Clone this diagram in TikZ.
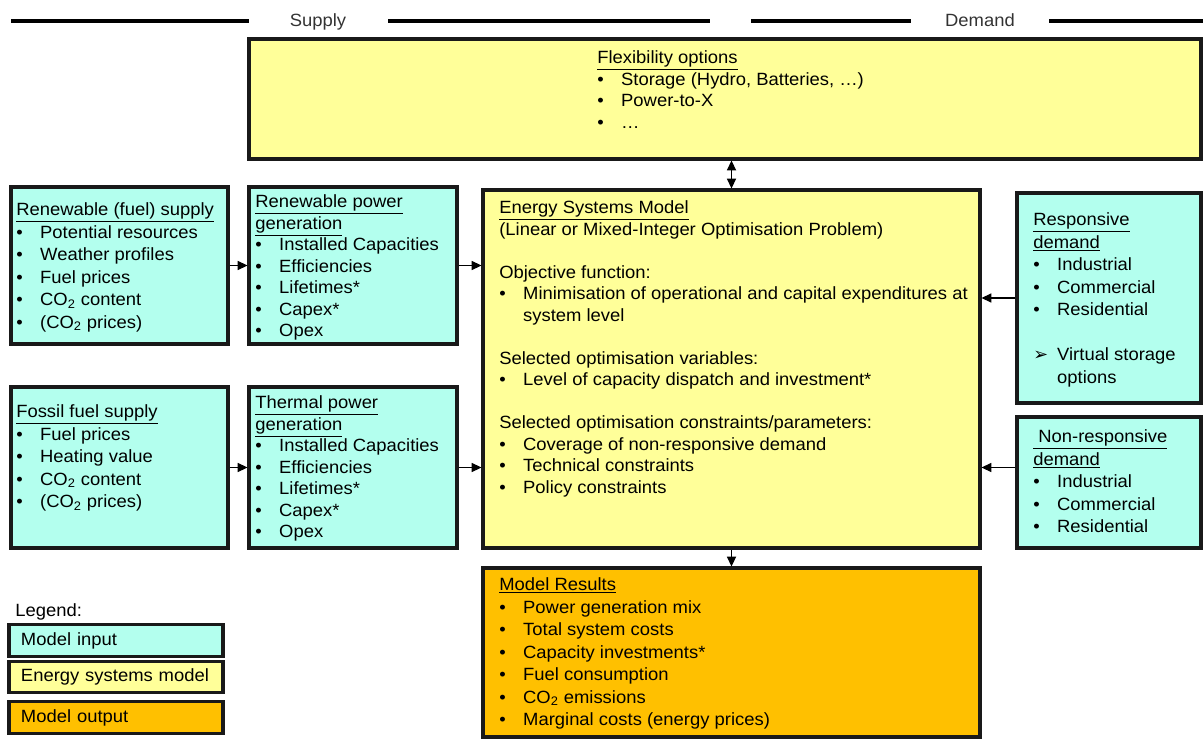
\documentclass[tikz,border=0pt]{standalone}
\usepackage{fontspec}
\setmainfont[FakeStretch=1.04]{Liberation Sans}
\newfontfamily\symfont{DejaVu Sans}
\usetikzlibrary{arrows.meta,fit}

\definecolor{inputcol}{RGB}{179,255,238}
\definecolor{modelcol}{RGB}{255,255,153}
\definecolor{outputcol}{RGB}{255,192,0}

\newcommand{\itm}{\makebox[17pt][l]{\textbullet}}
\newcommand{\arritm}{\makebox[17pt][l]{\symfont ➢}}
\newcommand{\cotwo}{CO\textsubscript{2}}

\tikzset{
  box/.style={draw=black!90, line width=2.2pt, inner sep=0pt},
  inbox/.style={box, fill=inputcol},
  modelbox/.style={box, fill=modelcol},
  outbox/.style={box, fill=outputcol},
  txt/.style={anchor=north west, inner sep=0pt, align=left, font=\fontsize{12.6}{16}\selectfont,
    execute at begin node=\rule{0pt}{9.6pt}},
  txttight/.style={txt, font=\fontsize{12.6}{15.3}\selectfont},
  head/.style={anchor=base, inner sep=0pt, font=\fontsize{12.6}{15.5}\selectfont, text=black!80},
  legbox/.style={box, minimum height=0.78cm, text width=4.75cm, inner xsep=0.3cm, align=left, font=\fontsize{12.6}{15.5}\selectfont},
  arr/.style={-{Triangle[length=7pt,width=6.5pt]}, line width=0.9pt},
  topline/.style={line width=2.2pt}
}

\begin{document}
\begin{tikzpicture}[x=0.025cm,y=-0.025cm]
  \useasboundingbox (0,0) rectangle (1203,742);

  % supply / demand header
  \draw[topline] (11,21) -- (249,21);
  \node[head] (supply) at (318,27) {Supply};
  \draw[topline] (388,21) -- (710,21);
  \draw[topline] (751,21) -- (911,21);
  \node[head] (demand) at (980,27) {Demand};
  \draw[topline] (1049,21) -- (1203,21);

  % boxes
  \node[modelbox, fit={(249,39) (1201,159)}] (flex) {};
  \node[inbox, fit={(11,187) (228,344)}] (rfs) {};
  \node[inbox, fit={(249,187) (457,344)}] (rpg) {};
  \node[inbox, fit={(11,387) (228,548)}] (ffs) {};
  \node[inbox, fit={(249,387) (457,548)}] (tpg) {};
  \node[modelbox, fit={(483,190) (980,548)}] (esm) {};
  \node[inbox, fit={(1017,193) (1201,403)}] (resp) {};
  \node[inbox, fit={(1017,417) (1201,548)}] (nonresp) {};
  \node[outbox, fit={(483,568) (980,737)}] (res) {};

  % box texts
  \node[txttight] (flextxt) at (597,50.5) {\underline{Flexibility options}\\
    \itm Storage (Hydro, Batteries, …)\\
    \itm Power-to-X\\
    \itm …};
  \node[txt] (rfstxt) at (16,202.5) {\underline{Renewable (fuel) supply}\\
    \itm Potential resources\\
    \itm Weather profiles\\
    \itm Fuel prices\\
    \itm \cotwo{} content\\
    \itm (\cotwo{} prices)};
  \node[txttight] (rpgtxt) at (255,194.5) {\underline{Renewable power}\\
    \underline{generation}\\
    \itm Installed Capacities\\
    \itm Efficiencies\\
    \itm Lifetimes*\\
    \itm Capex*\\
    \itm Opex};
  \node[txt] (ffstxt) at (16,404.5) {\underline{Fossil fuel supply}\\
    \itm Fuel prices\\
    \itm Heating value\\
    \itm \cotwo{} content\\
    \itm (\cotwo{} prices)};
  \node[txttight] (tpgtxt) at (255,395.5) {\underline{Thermal power}\\
    \underline{generation}\\
    \itm Installed Capacities\\
    \itm Efficiencies\\
    \itm Lifetimes*\\
    \itm Capex*\\
    \itm Opex};
  \node[txttight] (esmtxt) at (499,200.5) {\underline{Energy Systems Model}\\
    (Linear or Mixed-Integer Optimisation Problem)\\[15.3pt]
    Objective function:\\
    \itm Minimisation of operational and capital expenditures at\\
    \hspace*{17pt}system level\\[15.3pt]
    Selected optimisation variables:\\
    \itm Level of capacity dispatch and investment*\\[15.3pt]
    Selected optimisation constraints/parameters:\\
    \itm Coverage of non-responsive demand\\
    \itm Technical constraints\\
    \itm Policy constraints};
  \node[txt] (resptxt) at (1033,212.5) {\underline{Responsive}\\
    \underline{demand}\\
    \itm Industrial\\
    \itm Commercial\\
    \itm Residential\\[16pt]
    \arritm Virtual storage\\
    \hspace*{17pt}options};
  \node[txt] (nonresptxt) at (1033,429.5) {\underline{\ Non-responsive}\\
    \underline{demand}\\
    \itm Industrial\\
    \itm Commercial\\
    \itm Residential};
  \node[txt] (restxt) at (499,577.5) {\underline{Model Results}\\
    \itm Power generation mix\\
    \itm Total system costs\\
    \itm Capacity investments*\\
    \itm Fuel consumption\\
    \itm \cotwo{} emissions\\
    \itm Marginal costs (energy prices)};

  % connectors
  \draw[arr] (rfs) -- (rpg);
  \draw[arr] (rpg.east) -- (rpg.east -| esm.west);
  \draw[arr] (ffs) -- (tpg);
  \draw[arr] (tpg.east) -- (tpg.east -| esm.west);
  \draw[arr] (resp.west) -- (resp.west -| esm.east);
  \draw[arr] (nonresp.west |- tpg.east) -- (esm.east |- tpg.east);
  \draw[arr, {Triangle[length=7pt,width=6.5pt]}-{Triangle[length=7pt,width=6.5pt]}] (esm.north) -- (esm.north |- flex.south);
  \draw[arr] (esm.south) -- (res.north);

  % legend
  \node[txt] (legend) at (15,602.5) {Legend:};
  \node[legbox, fill=inputcol] (leginput) at (116,640.5) {Model input};
  \node[legbox, fill=modelcol] (legmodel) at (116,677) {Energy systems model};
  \node[legbox, fill=outputcol] (legoutput) at (116,717.5) {Model output};
\end{tikzpicture}
\end{document}
